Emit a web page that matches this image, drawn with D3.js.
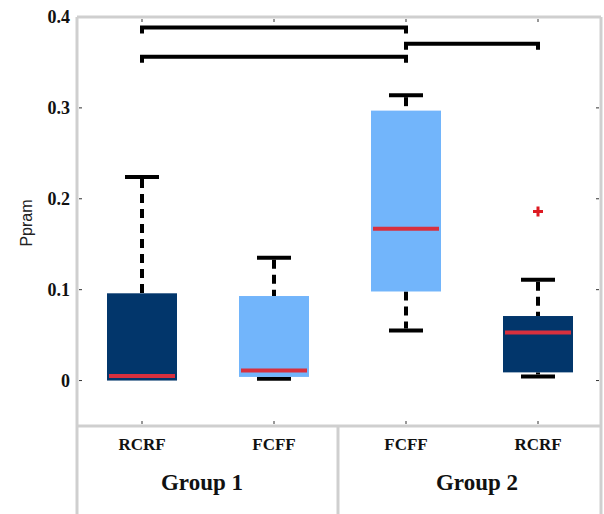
<!DOCTYPE html>
<html>
<head>
<meta charset="utf-8">
<script src="https://cdn.jsdelivr.net/npm/d3@7"></script>
<style>
  html, body { margin: 0; padding: 0; background: #fff; }
  svg { display: block; }
</style>
</head>
<body>
<svg id="chart" width="604" height="514"></svg>
<script>
// Box plot summary per category (Group 1: RCRF, FCFF; Group 2: FCFF, RCRF)
const categories   = ["RCRF", "FCFF", "FCFF", "RCRF"];
const boxColors    = ["#02366b", "#72b5fb", "#72b5fb", "#02366b"];
const groups       = ["Group 1", "Group 2"];
const q1           = [0.000, 0.004, 0.098, 0.009];
const q3           = [0.096, 0.093, 0.297, 0.071];
const medians      = [0.005, 0.011, 0.167, 0.053];
const whiskerLow   = [0.000, 0.002, 0.055, 0.0045];
const whiskerHigh  = [0.224, 0.135, 0.314, 0.111];
const outliers     = [[], [], [], [0.186]];
const yTicks       = [0, 0.1, 0.2, 0.3, 0.4];
const yTickLabels  = ["0", "0.1", "0.2", "0.3", "0.4"];
const yLabel       = "Ppram";

// Significance brackets: from category index, to category index, height
const bracketFrom  = [0, 0, 2];
const bracketTo    = [2, 2, 3];
const bracketLevel = [0.3885, 0.3563, 0.3705];

const svg = d3.select("#chart");
const frame = { left: 77, right: 601, top: 17, plotBottom: 426, bottom: 514, split: 338 };
const gray = "#cfcfcf";

const y = d3.scaleLinear().domain([-0.05, 0.4]).range([frame.plotBottom, frame.top]);
const x = d3.scalePoint().domain(d3.range(categories.length)).range([142, 538]);

const boxW = 70, capW = 34;

// Left axis labels + tick marks
const yAxis = d3.axisLeft(y).tickValues(yTicks).tickSize(0).tickPadding(7)
  .tickFormat((d, i) => yTickLabels[i]);
const gY = svg.append("g").attr("transform", `translate(${frame.left},0)`).call(yAxis);
gY.select(".domain").remove();
gY.selectAll("text")
  .attr("font-family", "'Liberation Serif', 'Times New Roman', serif")
  .attr("font-weight", "bold").attr("font-size", 18).attr("fill", "#111");

// small inner ticks on all sides
const tickG = svg.append("g").attr("stroke", "#333").attr("stroke-width", 1);
yTicks.forEach(v => {
  tickG.append("line").attr("x1", frame.left + 2).attr("x2", frame.left + 5)
    .attr("y1", y(v)).attr("y2", y(v));
  tickG.append("line").attr("x1", frame.right - 5).attr("x2", frame.right - 2)
    .attr("y1", y(v)).attr("y2", y(v));
});
categories.forEach((c, i) => {
  tickG.append("line").attr("x1", x(i)).attr("x2", x(i))
    .attr("y1", frame.top + 2).attr("y2", frame.top + 5);
  tickG.append("line").attr("x1", x(i)).attr("x2", x(i))
    .attr("y1", frame.plotBottom - 5).attr("y2", frame.plotBottom - 2);
});

// Y axis title
svg.append("text")
  .attr("transform", `translate(32,223) rotate(-90)`)
  .attr("text-anchor", "middle")
  .attr("font-family", "'Liberation Sans', Arial, sans-serif")
  .attr("font-size", 16).attr("fill", "#222")
  .text(yLabel);

// Boxes
const boxes = svg.append("g");
categories.forEach((c, i) => {
  const cx = x(i);
  const g = boxes.append("g");
  // whiskers (dashed stems)
  if (whiskerHigh[i] > q3[i]) {
    g.append("line").attr("x1", cx).attr("x2", cx)
      .attr("y1", y(whiskerHigh[i]) + 2).attr("y2", y(q3[i]))
      .attr("stroke", "#000").attr("stroke-width", 4).attr("stroke-dasharray", "9,6");
    g.append("line").attr("x1", cx - capW / 2).attr("x2", cx + capW / 2)
      .attr("y1", y(whiskerHigh[i])).attr("y2", y(whiskerHigh[i]))
      .attr("stroke", "#000").attr("stroke-width", 4);
  }
  if (whiskerLow[i] < q1[i]) {
    g.append("line").attr("x1", cx).attr("x2", cx)
      .attr("y1", y(q1[i])).attr("y2", y(whiskerLow[i]) - 2)
      .attr("stroke", "#000").attr("stroke-width", 4).attr("stroke-dasharray", "9,6");
    g.append("line").attr("x1", cx - capW / 2).attr("x2", cx + capW / 2)
      .attr("y1", y(whiskerLow[i])).attr("y2", y(whiskerLow[i]))
      .attr("stroke", "#000").attr("stroke-width", 4);
  }
  // box
  g.append("rect")
    .attr("x", cx - boxW / 2).attr("width", boxW)
    .attr("y", y(q3[i])).attr("height", y(q1[i]) - y(q3[i]))
    .attr("fill", boxColors[i]);
  // median
  g.append("line").attr("x1", cx - boxW / 2 + 2).attr("x2", cx + boxW / 2 - 2)
    .attr("y1", y(medians[i])).attr("y2", y(medians[i]))
    .attr("stroke", "#d8303e").attr("stroke-width", 4);
  // outliers
  outliers[i].forEach(v => {
    g.append("path")
      .attr("d", `M${cx - 5},${y(v)}H${cx + 5}M${cx},${y(v) - 5}V${y(v) + 5}`)
      .attr("stroke", "#dd1a22").attr("stroke-width", 3);
  });
});

// Significance brackets
const br = svg.append("g").attr("stroke", "#000").attr("stroke-width", 4).attr("fill", "none");
bracketLevel.forEach((lv, k) => {
  const x0 = x(bracketFrom[k]), x1 = x(bracketTo[k]), yy = y(lv);
  br.append("path")
    .attr("d", `M${x0},${yy + 6}V${yy}H${x1}V${yy + 6}`);
});

// Frame and category panel grid
const fr = svg.append("g").attr("stroke", gray).attr("stroke-width", 3).attr("fill", "none");
fr.append("line").attr("x1", frame.left).attr("x2", frame.left).attr("y1", frame.top).attr("y2", frame.bottom);
fr.append("line").attr("x1", frame.right).attr("x2", frame.right).attr("y1", frame.top).attr("y2", frame.bottom);
fr.append("line").attr("x1", frame.left).attr("x2", frame.right).attr("y1", frame.top).attr("y2", frame.top);
fr.append("line").attr("x1", frame.left).attr("x2", frame.right).attr("y1", frame.plotBottom).attr("y2", frame.plotBottom);
fr.append("line").attr("x1", frame.split).attr("x2", frame.split).attr("y1", frame.plotBottom).attr("y2", frame.bottom);

// Category labels
svg.append("g").selectAll("text").data(categories).join("text")
  .attr("x", (d, i) => x(i)).attr("y", 450)
  .attr("text-anchor", "middle")
  .attr("font-family", "'Liberation Serif', 'Times New Roman', serif")
  .attr("font-weight", "bold").attr("font-size", 17).attr("fill", "#111")
  .text(d => d);

// Group labels
const groupX = [202, 477];
svg.append("g").selectAll("text").data(groups).join("text")
  .attr("x", (d, i) => groupX[i]).attr("y", 490)
  .attr("text-anchor", "middle")
  .attr("font-family", "'Liberation Serif', 'Times New Roman', serif")
  .attr("font-weight", "bold").attr("font-size", 23).attr("fill", "#111")
  .text(d => d);
</script>
</body>
</html>
